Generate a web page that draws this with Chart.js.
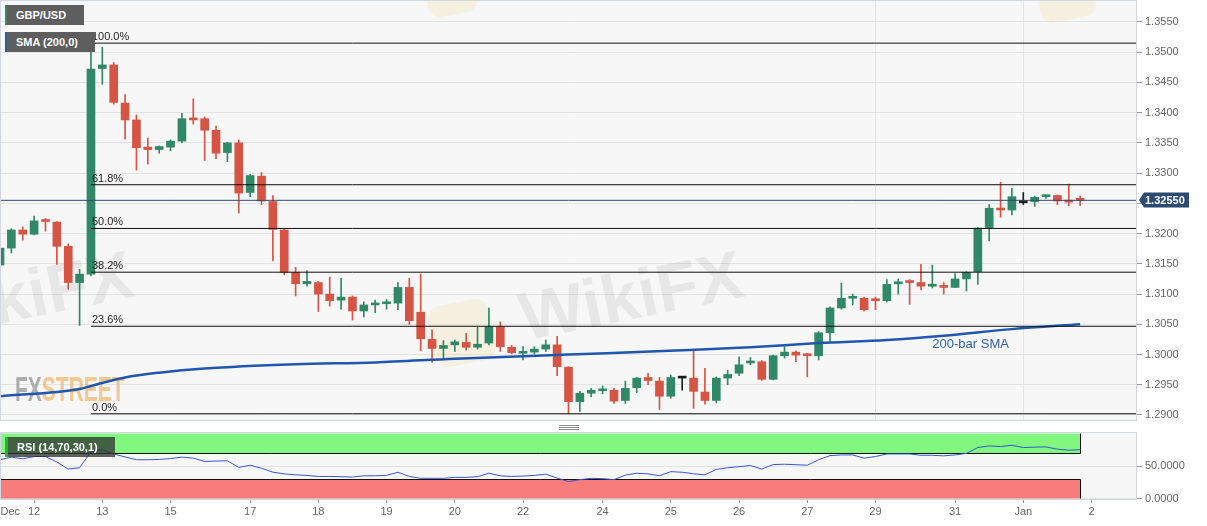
<!DOCTYPE html>
<html>
<head>
<meta charset="utf-8">
<title>GBP/USD 4H</title>
<script src="https://cdn.jsdelivr.net/npm/chart.js@4.4.1/dist/chart.umd.min.js"></script>
<style>
  html, body { margin: 0; padding: 0; background: #ffffff; }
  body { width: 1207px; height: 526px; position: relative; overflow: hidden; font-family: "Liberation Sans", Arial, sans-serif; }
  #mainBox { position: absolute; left: 0; top: 0; width: 1207px; height: 421px; }
  #rsiBox { position: absolute; left: 0; top: 421px; width: 1207px; height: 105px; }
  .tag { position: absolute; height: 20px; line-height: 20px; background: #5e5e5e; color: #fff;
         font-weight: bold; font-size: 11px; padding-left: 9px; box-sizing: border-box; white-space: nowrap; }
</style>
</head>
<body>
<div id="mainBox"><canvas id="mainChart" width="1207" height="421"></canvas></div>
<div id="rsiBox"><canvas id="rsiChart" width="1207" height="105"></canvas></div>

<div class="tag" style="left:5px;top:5px;width:79px;border-left:2px solid #2e8b6e;">GBP/USD</div>
<div class="tag" style="left:5px;top:32px;width:90px;border-left:2px solid #2a5aa8;">SMA (200,0)</div>
<div class="tag" style="left:5px;top:437px;width:110px;background:rgba(45,45,45,0.75);border-left:3px solid #22b822;">RSI (14,70,30,1)</div>

<script>
/************************ DATA ************************/
// x = bar index (4h bars), day labels sit on the first bar of each day
const dayTicks = [0.9, 3, 9, 15, 22, 28, 34, 40, 46, 53, 59, 65, 71, 77, 84, 90, 96];
const dayLabels = ["Dec", "12", "13", "15", "17", "18", "19", "20", "22", "24", "25", "26", "27", "29", "31", "Jan", "2"];

const priceTicks = [1.29, 1.295, 1.3, 1.305, 1.31, 1.315, 1.32, 1.325, 1.33, 1.335, 1.34, 1.345, 1.35, 1.355];
const rsiTicks = [0, 50];

const openP = [1.3148,1.3176,1.3206,1.3199,1.3222,1.3219,1.3179,1.3119,1.3133,1.3473,
  1.3479,1.3416,1.3388,1.3343,1.3339,1.3343,1.3353,1.3390,1.3390,1.3371,
  1.3334,1.3350,1.3268,1.3295,1.3253,1.3206,1.3136,1.3117,1.3119,1.3100,
  1.3090,1.3095,1.3072,1.3082,1.3084,1.3085,1.3111,1.3070,1.3025,1.3010,
  1.3016,1.3020,1.3012,1.3019,1.3046,1.3012,1.3002,1.3004,1.3009,1.3016,
  1.2979,1.2922,1.2936,1.2940,1.2941,1.2924,1.2945,1.2962,1.2956,1.2931,
  1.2961,1.2961,1.2938,1.2924,1.2961,1.2969,1.2986,1.2988,1.2959,1.2998,
  1.3004,1.3000,1.2998,1.3036,1.3077,1.3093,1.3093,1.3091,1.3089,1.3117,
  1.3120,1.3119,1.3113,1.3114,1.3111,1.3125,1.3137,1.3210,1.3242,1.3239,
  1.3251,1.3253,1.3261,1.3263,1.3254,1.3257];

const highP = [1.3185,1.3208,1.3211,1.3229,1.3225,1.3220,1.3183,1.3141,1.3515,1.3508,
  1.3483,1.3430,1.3396,1.3358,1.3345,1.3355,1.3399,1.3423,1.3393,1.3378,
  1.3351,1.3355,1.3298,1.3301,1.3263,1.3207,1.3144,1.3139,1.3121,1.3128,
  1.3126,1.3097,1.3087,1.3090,1.3091,1.3119,1.3126,1.3133,1.3041,1.3023,
  1.3024,1.3035,1.3045,1.3077,1.3054,1.3015,1.3013,1.3013,1.3024,1.3030,
  1.2980,1.2939,1.2944,1.2948,1.2944,1.2956,1.2962,1.2969,1.2962,1.2966,
  1.2964,1.3007,1.2977,1.2963,1.2974,1.2996,1.2995,1.2990,1.2999,1.3013,
  1.3006,1.3002,1.3038,1.3079,1.3118,1.3100,1.3095,1.3095,1.3124,1.3125,
  1.3124,1.3149,1.3148,1.3119,1.3134,1.3137,1.3210,1.3248,1.3285,1.3275,
  1.3268,1.3262,1.3264,1.3264,1.3282,1.3262];

const lowP = [1.3140,1.3168,1.3189,1.3198,1.3204,1.3149,1.3108,1.3048,1.3130,1.3447,
  1.3414,1.3356,1.3305,1.3315,1.3333,1.3337,1.3350,1.3381,1.3321,1.3324,
  1.3319,1.3234,1.3261,1.3248,1.3155,1.3132,1.3097,1.3113,1.3071,1.3080,
  1.3075,1.3057,1.3062,1.3069,1.3075,1.3074,1.3050,1.3006,1.2987,1.2993,
  1.3005,1.3007,1.3009,1.3016,1.3005,1.3001,1.2991,1.3001,1.3005,1.2965,
  1.2902,1.2906,1.2930,1.2935,1.2919,1.2919,1.2937,1.2950,1.2909,1.2928,
  1.2941,1.2911,1.2918,1.2920,1.2950,1.2965,1.2983,1.2957,1.2958,1.2994,
  1.2988,1.2963,1.2991,1.3020,1.3075,1.3082,1.3072,1.3074,1.3087,1.3100,
  1.3083,1.3107,1.3110,1.3100,1.3111,1.3105,1.3116,1.3188,1.3227,1.3231,
  1.3248,1.3245,1.3258,1.3248,1.3246,1.3246];

const closeP = [1.3176,1.3206,1.3199,1.3221,1.3220,1.3179,1.3119,1.3133,1.3472,1.3479,
  1.3417,1.3388,1.3342,1.3339,1.3344,1.3353,1.3390,1.3388,1.3371,1.3333,
  1.3350,1.3267,1.3296,1.3254,1.3207,1.3136,1.3117,1.3121,1.3100,1.3089,
  1.3095,1.3072,1.3082,1.3084,1.3086,1.3111,1.3056,1.3026,1.3010,1.3015,
  1.3021,1.3012,1.3017,1.3046,1.3013,1.3003,1.3004,1.3009,1.3016,1.2980,
  1.2922,1.2936,1.2941,1.2942,1.2923,1.2944,1.2961,1.2957,1.2931,1.2962,
  1.2961,1.2939,1.2924,1.2961,1.2967,1.2983,1.2989,1.2959,1.2998,1.3004,
  1.2999,1.2998,1.3036,1.3077,1.3093,1.3095,1.3074,1.3089,1.3116,1.3120,
  1.3119,1.3113,1.3114,1.3111,1.3125,1.3136,1.3209,1.3242,1.3239,1.3261,
  1.3251,1.3260,1.3263,1.3254,1.3252,1.3255];

// 200-bar SMA read at a few bars
const smaIdx = [0, 7, 8, 11, 14, 18, 26, 33, 40, 50, 60, 66, 72, 78, 83, 89, 95];
const smaVal = [1.2931, 1.2943, 1.2948, 1.2962, 1.2970, 1.2977, 1.2984, 1.2987, 1.2993, 1.3000,
  1.3007, 1.3012, 1.3019, 1.3024, 1.3031, 1.3042, 1.3050];

const rsiVal = [59.6,63.6,61.1,64.6,64.6,56.2,45.3,47.3,72,75,
  68.5,64,59.6,59.6,60.1,61.5,63.6,62.1,57,57.6,
  58,47.8,51.2,46.5,40.5,37.9,36.4,35.5,33.9,33.9,
  33.5,33,34.9,34.9,35.5,40.4,33.9,31,31,31,
  32.5,32.5,33.5,38.9,34.9,33.9,34.5,35.5,37.4,31.5,
  26,29,31,30.5,29,36,38.9,37.9,35,41.3,
  40.4,38,36.4,44.8,47.3,49,50.7,45.3,52.2,52.7,
  52,51.2,59.6,66,67,67,62.1,64.6,68.5,68.5,
  68.5,66.5,66.5,65.6,67,69.5,78.4,80.9,79.9,81.9,
  78.4,79,79.4,75.9,74.4,75];

// fibonacci retracement (swing high Dec 13 -> low Dec 23)
const fibHigh = 1.3515;
const fibLow = 1.2902;
const fibStart = 8;
const fibRatios = [1, 0.618, 0.5, 0.382, 0.236, 0];
const fibNames = ["100.0%", "61.8%", "50.0%", "38.2%", "23.6%", "0.0%"];

const lastPrice = 1.3255;
const rsiUpper = 70;
const rsiLower = 30;
const weekLines = [77, 90];

/************************ STYLE ************************/
const FONT = '"Liberation Sans", Arial, sans-serif';
const GREEN = "#308868";
const RED = "#d65444";
const DOJI = "#1e1e1e";
const xMin = 0;
const xMax = 100;

const candleColors = openP.map((o, i) =>
  closeP[i] > o ? GREEN : closeP[i] < o ? RED : DOJI
);
const fibLevels = fibRatios.map((r) => fibLow + (fibHigh - fibLow) * r);

/************************ PLUGINS ************************/
function fillArea(chart) {
  const { ctx, chartArea: a } = chart;
  ctx.save();
  ctx.fillStyle = "#f7f7f7";
  ctx.fillRect(a.left, a.top, a.right - a.left, a.bottom - a.top);
  ctx.restore();
}
function frameArea(chart) {
  const { ctx, chartArea: a } = chart;
  ctx.save();
  ctx.strokeStyle = "#d3d7e0";
  ctx.lineWidth = 1;
  ctx.strokeRect(a.left + 0.5, a.top - 0.5, a.right - a.left - 1, a.bottom - a.top + 1);
  ctx.restore();
}
function roundSquare(ctx, cx, cy, s, r, color) {
  ctx.save();
  ctx.translate(cx, cy);
  ctx.rotate(-0.2);
  ctx.fillStyle = color;
  ctx.beginPath();
  ctx.roundRect(-s / 2, -s / 2, s, s, r);
  ctx.fill();
  ctx.restore();
}
function wikiText(ctx, cx, cy) {
  ctx.save();
  ctx.translate(cx, cy);
  ctx.rotate(-0.2);
  ctx.font = "bold 68px " + FONT;
  ctx.fillStyle = "rgba(120,120,120,0.13)";
  ctx.textAlign = "center";
  ctx.textBaseline = "middle";
  ctx.fillText("WikiFX", 0, 0);
  ctx.restore();
}

const mainDeco = {
  id: "mainDeco",
  beforeDraw(chart) {
    fillArea(chart);
  },
  beforeDatasetsDraw(chart) {
    const { ctx, chartArea: a, scales: { x } } = chart;
    ctx.save();
    ctx.beginPath();
    ctx.rect(a.left, a.top, a.right - a.left, a.bottom - a.top);
    ctx.clip();
    // faint week / month separators
    ctx.strokeStyle = "#e4e4e4";
    ctx.lineWidth = 1;
    weekLines.forEach((v) => {
      const px = Math.round(x.getPixelForValue(v)) + 0.5;
      ctx.beginPath();
      ctx.moveTo(px, a.top);
      ctx.lineTo(px, a.bottom);
      ctx.stroke();
    });
    // watermarks
    roundSquare(ctx, 462, 333, 62, 14, "rgba(244,205,110,0.16)");
    roundSquare(ctx, 450, -10, 50, 12, "rgba(244,205,110,0.16)");
    roundSquare(ctx, 1065, -8, 56, 12, "rgba(244,205,110,0.16)");
    wikiText(ctx, 632, 300);
    wikiText(ctx, 22, 300);
    // FXSTREET logo
    ctx.save();
    ctx.translate(15, 401);
    ctx.scale(0.6, 1);
    ctx.font = "bold 35px " + FONT;
    ctx.textBaseline = "alphabetic";
    ctx.fillStyle = "rgba(125,125,125,0.6)";
    ctx.fillText("FX", 0, 0);
    const w = ctx.measureText("FX").width;
    ctx.fillStyle = "rgba(240,160,60,0.55)";
    ctx.fillText("STREET", w, 0);
    ctx.restore();
    ctx.restore();
  },
  afterDatasetsDraw(chart) {
    const { ctx, scales: { x, y } } = chart;
    ctx.save();
    // fibo labels
    ctx.font = "11px " + FONT;
    ctx.fillStyle = "#222";
    ctx.textAlign = "left";
    ctx.textBaseline = "alphabetic";
    fibLevels.forEach((lvl, i) => {
      ctx.fillText(fibNames[i], x.getPixelForValue(fibStart) + 1, y.getPixelForValue(lvl) - 3);
    });
    // SMA label
    ctx.font = "13px " + FONT;
    ctx.fillStyle = "#2d5eb0";
    ctx.textBaseline = "middle";
    ctx.fillText("200-bar SMA", x.getPixelForValue(82), y.getPixelForValue(1.3016));
    ctx.restore();
  },
  afterDraw(chart) {
    frameArea(chart);
    const { ctx, chartArea: a, scales: { y } } = chart;
    // last price tag
    const py = Math.round(y.getPixelForValue(lastPrice));
    const bx = a.right + 7;
    const bw = 45;
    const bh = 15;
    ctx.save();
    ctx.fillStyle = "#2d4a72";
    ctx.beginPath();
    ctx.moveTo(a.right + 2, py);
    ctx.lineTo(bx, py - bh / 2);
    ctx.lineTo(bx + bw, py - bh / 2);
    ctx.lineTo(bx + bw, py + bh / 2);
    ctx.lineTo(bx, py + bh / 2);
    ctx.closePath();
    ctx.fill();
    ctx.fillStyle = "#fff";
    ctx.font = "bold 11px " + FONT;
    ctx.textBaseline = "middle";
    ctx.fillText(lastPrice.toFixed(5), bx + 1, py + 0.5);
    ctx.restore();
  },
};

const rsiDeco = {
  id: "rsiDeco",
  beforeDraw(chart) {
    fillArea(chart);
  },
  beforeDatasetsDraw(chart) {
    const { ctx, chartArea: a, scales: { x, y } } = chart;
    const x0 = a.left;
    const x1 = Math.round(x.getPixelForValue(rsiVal.length - 1)) + 0.5;
    const yTop = y.getPixelForValue(100);
    const y70 = Math.round(y.getPixelForValue(rsiUpper)) + 0.5;
    const y30 = Math.round(y.getPixelForValue(rsiLower)) + 0.5;
    const y0 = y.getPixelForValue(0);
    ctx.save();
    ctx.fillStyle = "#80f77f";
    ctx.fillRect(x0, yTop, x1 - x0, y70 - yTop);
    ctx.fillStyle = "#f87c7c";
    ctx.fillRect(x0, y30, x1 - x0, y0 - y30);
    ctx.strokeStyle = "#111";
    ctx.lineWidth = 1;
    ctx.beginPath();
    ctx.moveTo(x0, y70); ctx.lineTo(x1, y70);
    ctx.moveTo(x0, y30); ctx.lineTo(x1, y30);
    ctx.moveTo(x1, yTop); ctx.lineTo(x1, y70);
    ctx.moveTo(x1, y30); ctx.lineTo(x1, y0);
    ctx.moveTo(x0 + 0.5, yTop); ctx.lineTo(x0 + 0.5, y70);
    ctx.moveTo(x0 + 0.5, y30); ctx.lineTo(x0 + 0.5, y0);
    ctx.stroke();
    ctx.restore();
  },
  afterDraw(chart) {
    frameArea(chart);
    const { ctx, chartArea: a } = chart;
    // panel resize handle
    const cx = Math.round((a.left + a.right) / 2);
    ctx.save();
    ctx.strokeStyle = "#8a8a8a";
    ctx.lineWidth = 1;
    [4.5, 6.5, 8.5].forEach((yy) => {
      ctx.beginPath();
      ctx.moveTo(cx - 10, yy);
      ctx.lineTo(cx + 10, yy);
      ctx.stroke();
    });
    ctx.restore();
  },
};

/************************ MAIN CHART ************************/
const fibSets = fibLevels.map((lvl, i) => ({
  type: "line",
  label: fibNames[i],
  data: [{ x: fibStart, y: lvl }, { x: xMax, y: lvl }],
  borderColor: "#111",
  borderWidth: 1,
  pointRadius: 0,
  order: 0,
}));

const mainChart = new Chart(document.getElementById("mainChart"), {
  type: "bar",
  data: {
    datasets: [
      ...fibSets,
      {
        type: "line",
        label: "last",
        data: [{ x: xMin, y: lastPrice }, { x: xMax, y: lastPrice }],
        borderColor: "#2d4a72",
        borderWidth: 1,
        pointRadius: 0,
        order: 1,
      },
      {
        type: "line",
        label: "SMA 200",
        data: smaIdx.map((v, i) => ({ x: v, y: smaVal[i] })),
        borderColor: "#1f57ad",
        borderWidth: 2.5,
        pointRadius: 0,
        cubicInterpolationMode: "monotone",
        order: 2,
      },
      {
        label: "wick",
        data: lowP.map((l, i) => ({ x: i, y: [l, highP[i]] })),
        backgroundColor: candleColors,
        barThickness: 1,
        grouped: false,
        order: 4,
      },
      {
        label: "body",
        data: openP.map((o, i) => ({ x: i, y: [o, closeP[i]] })),
        backgroundColor: candleColors,
        barThickness: 8,
        minBarLength: 2,
        grouped: false,
        order: 3,
      },
    ],
  },
  options: {
    responsive: false,
    animation: false,
    devicePixelRatio: 1,
    layout: { padding: { top: 1, bottom: 1, left: 0, right: 0 } },
    plugins: { legend: { display: false }, tooltip: { enabled: false } },
    scales: {
      x: {
        type: "linear",
        min: xMin,
        max: xMax,
        offset: false,
        display: false,
        grid: { offset: false },
      },
      y: {
        type: "linear",
        position: "right",
        min: 1.28917,
        max: 1.35847,
        afterBuildTicks(s) {
          s.ticks = priceTicks.map((v) => ({ value: v }));
        },
        afterFit(s) {
          s.width = 70;
          s.paddingTop = 0;
          s.paddingBottom = 0;
        },
        ticks: {
          callback: (v) => (Math.abs(v - lastPrice) < 0.0015 ? "" : v.toFixed(4)),
          color: "#666",
          font: { family: FONT, size: 11 },
          padding: 3,
        },
        grid: { color: "#e3e3e3", tickColor: "#999", tickLength: 5 },
        border: { display: false },
      },
    },
  },
  plugins: [mainDeco],
});

/************************ RSI CHART ************************/
const rsiChart = new Chart(document.getElementById("rsiChart"), {
  type: "line",
  data: {
    datasets: [
      {
        label: "RSI",
        data: rsiVal.map((v, i) => ({ x: i, y: v })),
        borderColor: "#3a55d4",
        borderWidth: 1,
        pointRadius: 0,
        tension: 0,
      },
    ],
  },
  options: {
    responsive: false,
    animation: false,
    devicePixelRatio: 1,
    layout: { padding: { top: 12, bottom: 0, left: 0, right: 0 } },
    plugins: { legend: { display: false }, tooltip: { enabled: false } },
    scales: {
      x: {
        type: "linear",
        min: xMin,
        max: xMax,
        offset: false,
        afterBuildTicks(s) {
          s.ticks = dayTicks.map((v) => ({ value: v }));
        },
        afterFit(s) {
          s.height = 27;
          s.paddingLeft = 0;
          s.paddingRight = 0;
        },
        ticks: {
          autoSkip: false,
          maxRotation: 0,
          callback: (v, i) => dayLabels[i],
          color: "#666",
          font: { family: FONT, size: 11 },
          padding: 2,
        },
        grid: {
          drawOnChartArea: false,
          tickLength: 4,
          tickColor: dayTicks.map((v, i) => (i === 0 ? "rgba(0,0,0,0)" : "#999")),
        },
        border: { display: false },
      },
      y: {
        type: "linear",
        position: "right",
        min: -0.8,
        max: 100.8,
        afterBuildTicks(s) {
          s.ticks = rsiTicks.map((v) => ({ value: v }));
        },
        afterFit(s) {
          s.width = 70;
          s.paddingTop = 0;
          s.paddingBottom = 0;
        },
        ticks: {
          callback: (v) => v.toFixed(4),
          color: "#666",
          font: { family: FONT, size: 11 },
          padding: 3,
        },
        grid: { color: "#e3e3e3", tickColor: "#999", tickLength: 5 },
        border: { display: false },
      },
    },
  },
  plugins: [rsiDeco],
});
</script>
</body>
</html>
